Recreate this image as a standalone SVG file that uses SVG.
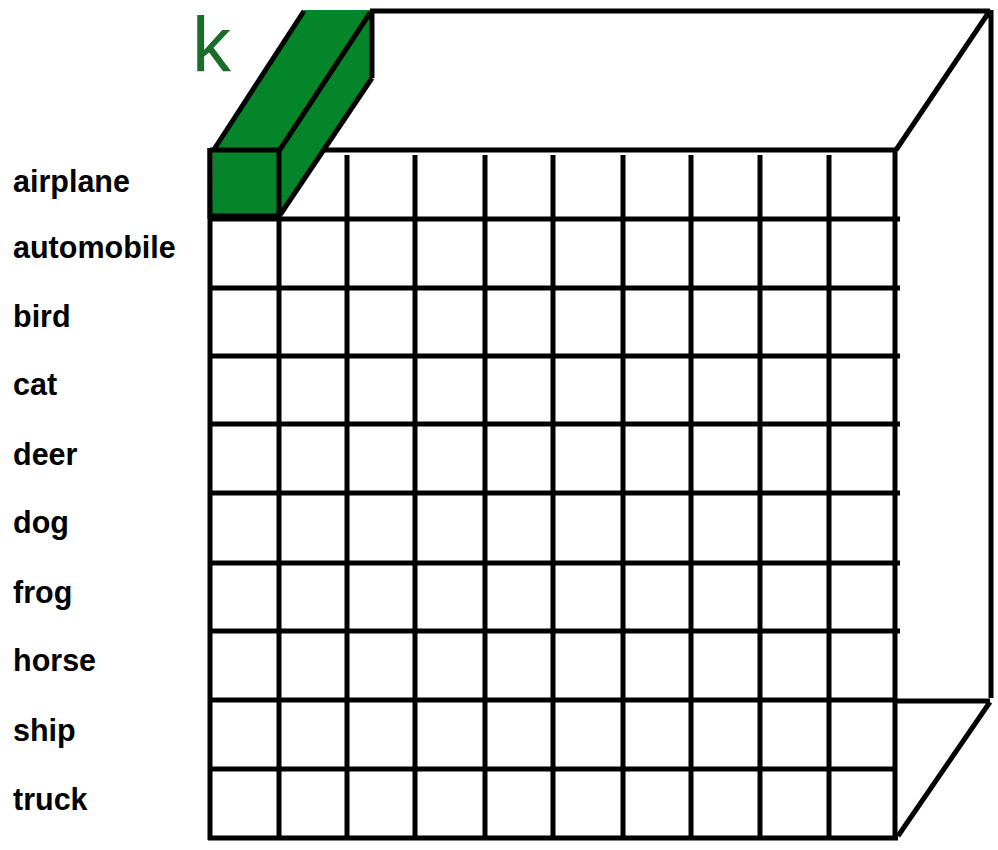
<svg xmlns="http://www.w3.org/2000/svg" width="998" height="850" viewBox="0 0 998 850">
<style>
.ln{stroke:#000;stroke-width:5;fill:none;stroke-linecap:butt}
.lbl{font-family:"Liberation Sans",Arial,sans-serif;font-weight:bold;font-size:30.5px;fill:#000}
.gf{fill:#048529;stroke:none}
</style>
<rect width="998" height="850" fill="#fff"/>
<g id="box">
<path class="ln" d="M370 11 H990 M991 10 V698 M989 12 L896 150 M895 701 H990 M990 702 L898 836"/>
</g>
<g id="grid">
<path class="ln" d="M210 150 H897 M210 219 H900 M210 288 H900 M210 356 H900 M210 424 H900 M210 493 H900 M210 563 H900 M210 631 H900 M210 700 H895 M210 769 H897 M208 838 H898"/>
<path class="ln" d="M210 148 V840 M895 148 V840"/>
<path class="ln" d="M279 155 V836 M347 155 V836 M415 155 V836 M485 155 V836 M553 155 V836 M623 155 V836 M691 155 V836 M760 155 V836 M829 155 V836"/>
</g>
<g id="green-cell">
<polygon class="gf" points="213,150 304,10 372,10 372,78 280,216 212,216"/>
<path class="ln" d="M212 150 H279 V217 M212 216 H279 M213 151 L304 11 M279 151 L370 13 M372 10 V78 M372 78 L280 215 M210 148 V219"/>
</g>
<g id="k-label">
<text x="192" y="72" font-family="'Liberation Sans',Arial,sans-serif" font-size="78" fill="#1b6e2a">k</text>
</g>
<g id="labels">
<text class="lbl" x="13" y="192">airplane</text>
<text class="lbl" x="13" y="258">automobile</text>
<text class="lbl" x="13" y="327">bird</text>
<text class="lbl" x="13" y="395">cat</text>
<text class="lbl" x="13" y="465">deer</text>
<text class="lbl" x="13" y="533">dog</text>
<text class="lbl" x="13" y="603">frog</text>
<text class="lbl" x="13" y="671">horse</text>
<text class="lbl" x="13" y="741">ship</text>
<text class="lbl" x="13" y="810">truck</text>
</g>
</svg>
